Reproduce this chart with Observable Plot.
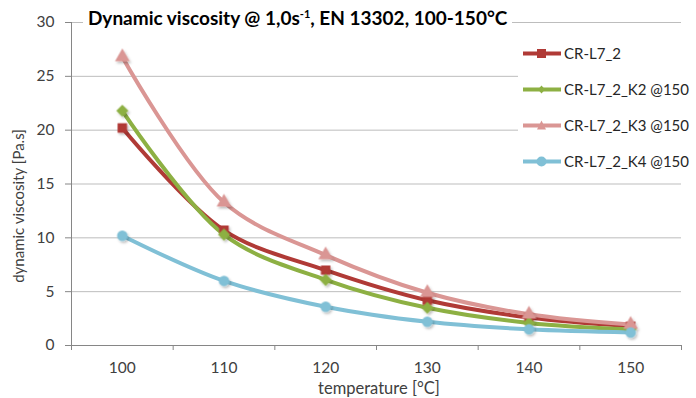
<!DOCTYPE html>
<html><head><meta charset="utf-8">
<script src="https://cdn.jsdelivr.net/npm/d3@7"></script>
<script src="https://cdn.jsdelivr.net/npm/@observablehq/plot@0.6"></script>
<style>
body{margin:0;background:#fff;}
#wrap{position:relative;width:696px;height:398px;font-family:Lato,sans-serif;color:#404040;overflow:hidden;}
#title{position:absolute;left:83px;top:6px;padding:0 5px;background:#fff;font-weight:bold;font-size:19px;color:#000;white-space:nowrap;}
#title sup{font-size:11px;vertical-align:7px;line-height:0;}
#legend{position:absolute;left:518px;top:38px;width:178px;height:138px;background:#fff;}
.item{position:absolute;left:4px;height:20px;display:flex;align-items:center;font-size:15px;color:#262626;white-space:nowrap;}
.item svg{margin-right:2px;}
</style></head><body><div id="wrap"></div>
<script>
const temperatures = [100, 110, 120, 130, 140, 150];
const seriesNames = ["CR-L7_2", "CR-L7_2_K2 @150", "CR-L7_2_K3 @150", "CR-L7_2_K4 @150"];
const crL72 = [20.2, 10.7, 7.0, 4.2, 2.6, 1.8];
const crL72K2 = [21.8, 10.3, 6.1, 3.5, 2.1, 1.5];
const crL72K3 = [26.8, 13.3, 8.4, 4.9, 2.9, 1.95];
const crL72K4 = [10.2, 6.0, 3.6, 2.2, 1.5, 1.2];
const seriesColors = ["#b03a36", "#8db043", "#da9694", "#80c0d6"];
const seriesSymbols = ["square", "diamond2", "triangle", "circle"];
const yTicks = [0, 5, 10, 15, 20, 25, 30];
const xTickLabels = [100, 110, 120, 130, 140, 150];
const xBoundaries = [95, 105, 115, 125, 135, 145, 155];
const titleHtml = "Dynamic viscosity @ 1,0s<sup>-1</sup>, EN 13302, 100-150°C";
const yLabel = "dynamic viscosity [Pa.s]";
const xLabel = "temperature [°C]";

const allValues = [crL72, crL72K2, crL72K3, crL72K4];
const data = [];
allValues.forEach((vals, i) => vals.forEach((v, j) => data.push({series: seriesNames[i], t: temperatures[j], v})));

const axisGray = "#868686";
const chart = Plot.plot({
  width: 696, height: 398,
  marginLeft: 71, marginRight: 15, marginTop: 22, marginBottom: 53,
  style: {fontFamily: "Lato, sans-serif", fontSize: "14px", color: "#404040", background: "#fff"},
  x: {domain: [95, 155]},
  y: {domain: [0, 30]},
  color: {domain: seriesNames, range: seriesColors},
  symbol: {domain: seriesNames, range: seriesSymbols},
  marks: [
    Plot.gridY(yTicks.slice(1), {stroke: "#bdbdbd", strokeOpacity: 1}),
    Plot.axisY(yTicks, {tickSize: 6, tickPadding: 11, stroke: axisGray, fill: "#404040", fontSize: 15.5, label: null}),
    Plot.axisX(xBoundaries, {tickSize: 5, tickFormat: () => "", stroke: axisGray, label: null}),
    Plot.axisX(xTickLabels, {tickSize: 0, tickPadding: 16, fill: "#404040", fontSize: 15.5, label: null}),
    Plot.ruleX([95], {stroke: axisGray}),
    Plot.ruleY([0], {stroke: axisGray}),
    Plot.line(data, {x: "t", y: "v", z: "series", stroke: "series", strokeWidth: 4, curve: "catmull-rom"}),
    Plot.dot(data, {x: "t", y: "v", fill: "series", stroke: "series", symbol: "series", r: 4.5})
  ]
});
const wrap = document.getElementById("wrap");
wrap.appendChild(chart);

const svg = d3.select(chart);
// soft drop shadow like the original
const defs = svg.append("defs");
const f = defs.append("filter").attr("id", "shadow").attr("x", "-50%").attr("y", "-50%").attr("width", "200%").attr("height", "200%");
f.append("feDropShadow").attr("dx", 1.5).attr("dy", 2).attr("stdDeviation", 1.2).attr("flood-color", "#000").attr("flood-opacity", 0.25);
svg.selectAll("g[aria-label='dot']").attr("filter", "url(#shadow)");

// axis titles
svg.append("text").attr("x", 379).attr("y", 394).attr("text-anchor", "middle")
  .attr("font-size", 16.5).attr("fill", "#404040").text(xLabel);
svg.append("text").attr("transform", "translate(24,206) rotate(-90)").attr("text-anchor", "middle")
  .attr("font-size", 15).attr("fill", "#404040").text(yLabel);

const t = document.createElement("div");
t.id = "title"; t.innerHTML = titleHtml; wrap.appendChild(t);

const leg = document.createElement("div"); leg.id = "legend"; wrap.appendChild(leg);
const sym = {
  square: s => `<rect x="15" y="5" width="9" height="9" fill="${s}"/>`,
  diamond2: s => `<path d="M19.5 5.5 L23 9.5 L19.5 13.5 L16 9.5Z" fill="${s}"/>`,
  triangle: s => `<path d="M19.5 4.5 L24 13.5 L15 13.5Z" fill="${s}"/>`,
  circle: s => `<circle cx="19.5" cy="9.5" r="5" fill="${s}"/>`
};
seriesNames.forEach((n, i) => {
  const d = document.createElement("div");
  d.className = "item"; d.style.top = (5 + i * 36) + "px";
  d.innerHTML = `<svg width="40" height="19"><line x1="1" x2="39" y1="9.5" y2="9.5" stroke="${seriesColors[i]}" stroke-width="4"/>${sym[seriesSymbols[i]](seriesColors[i])}</svg>${n}`;
  leg.appendChild(d);
});
</script></body></html>
